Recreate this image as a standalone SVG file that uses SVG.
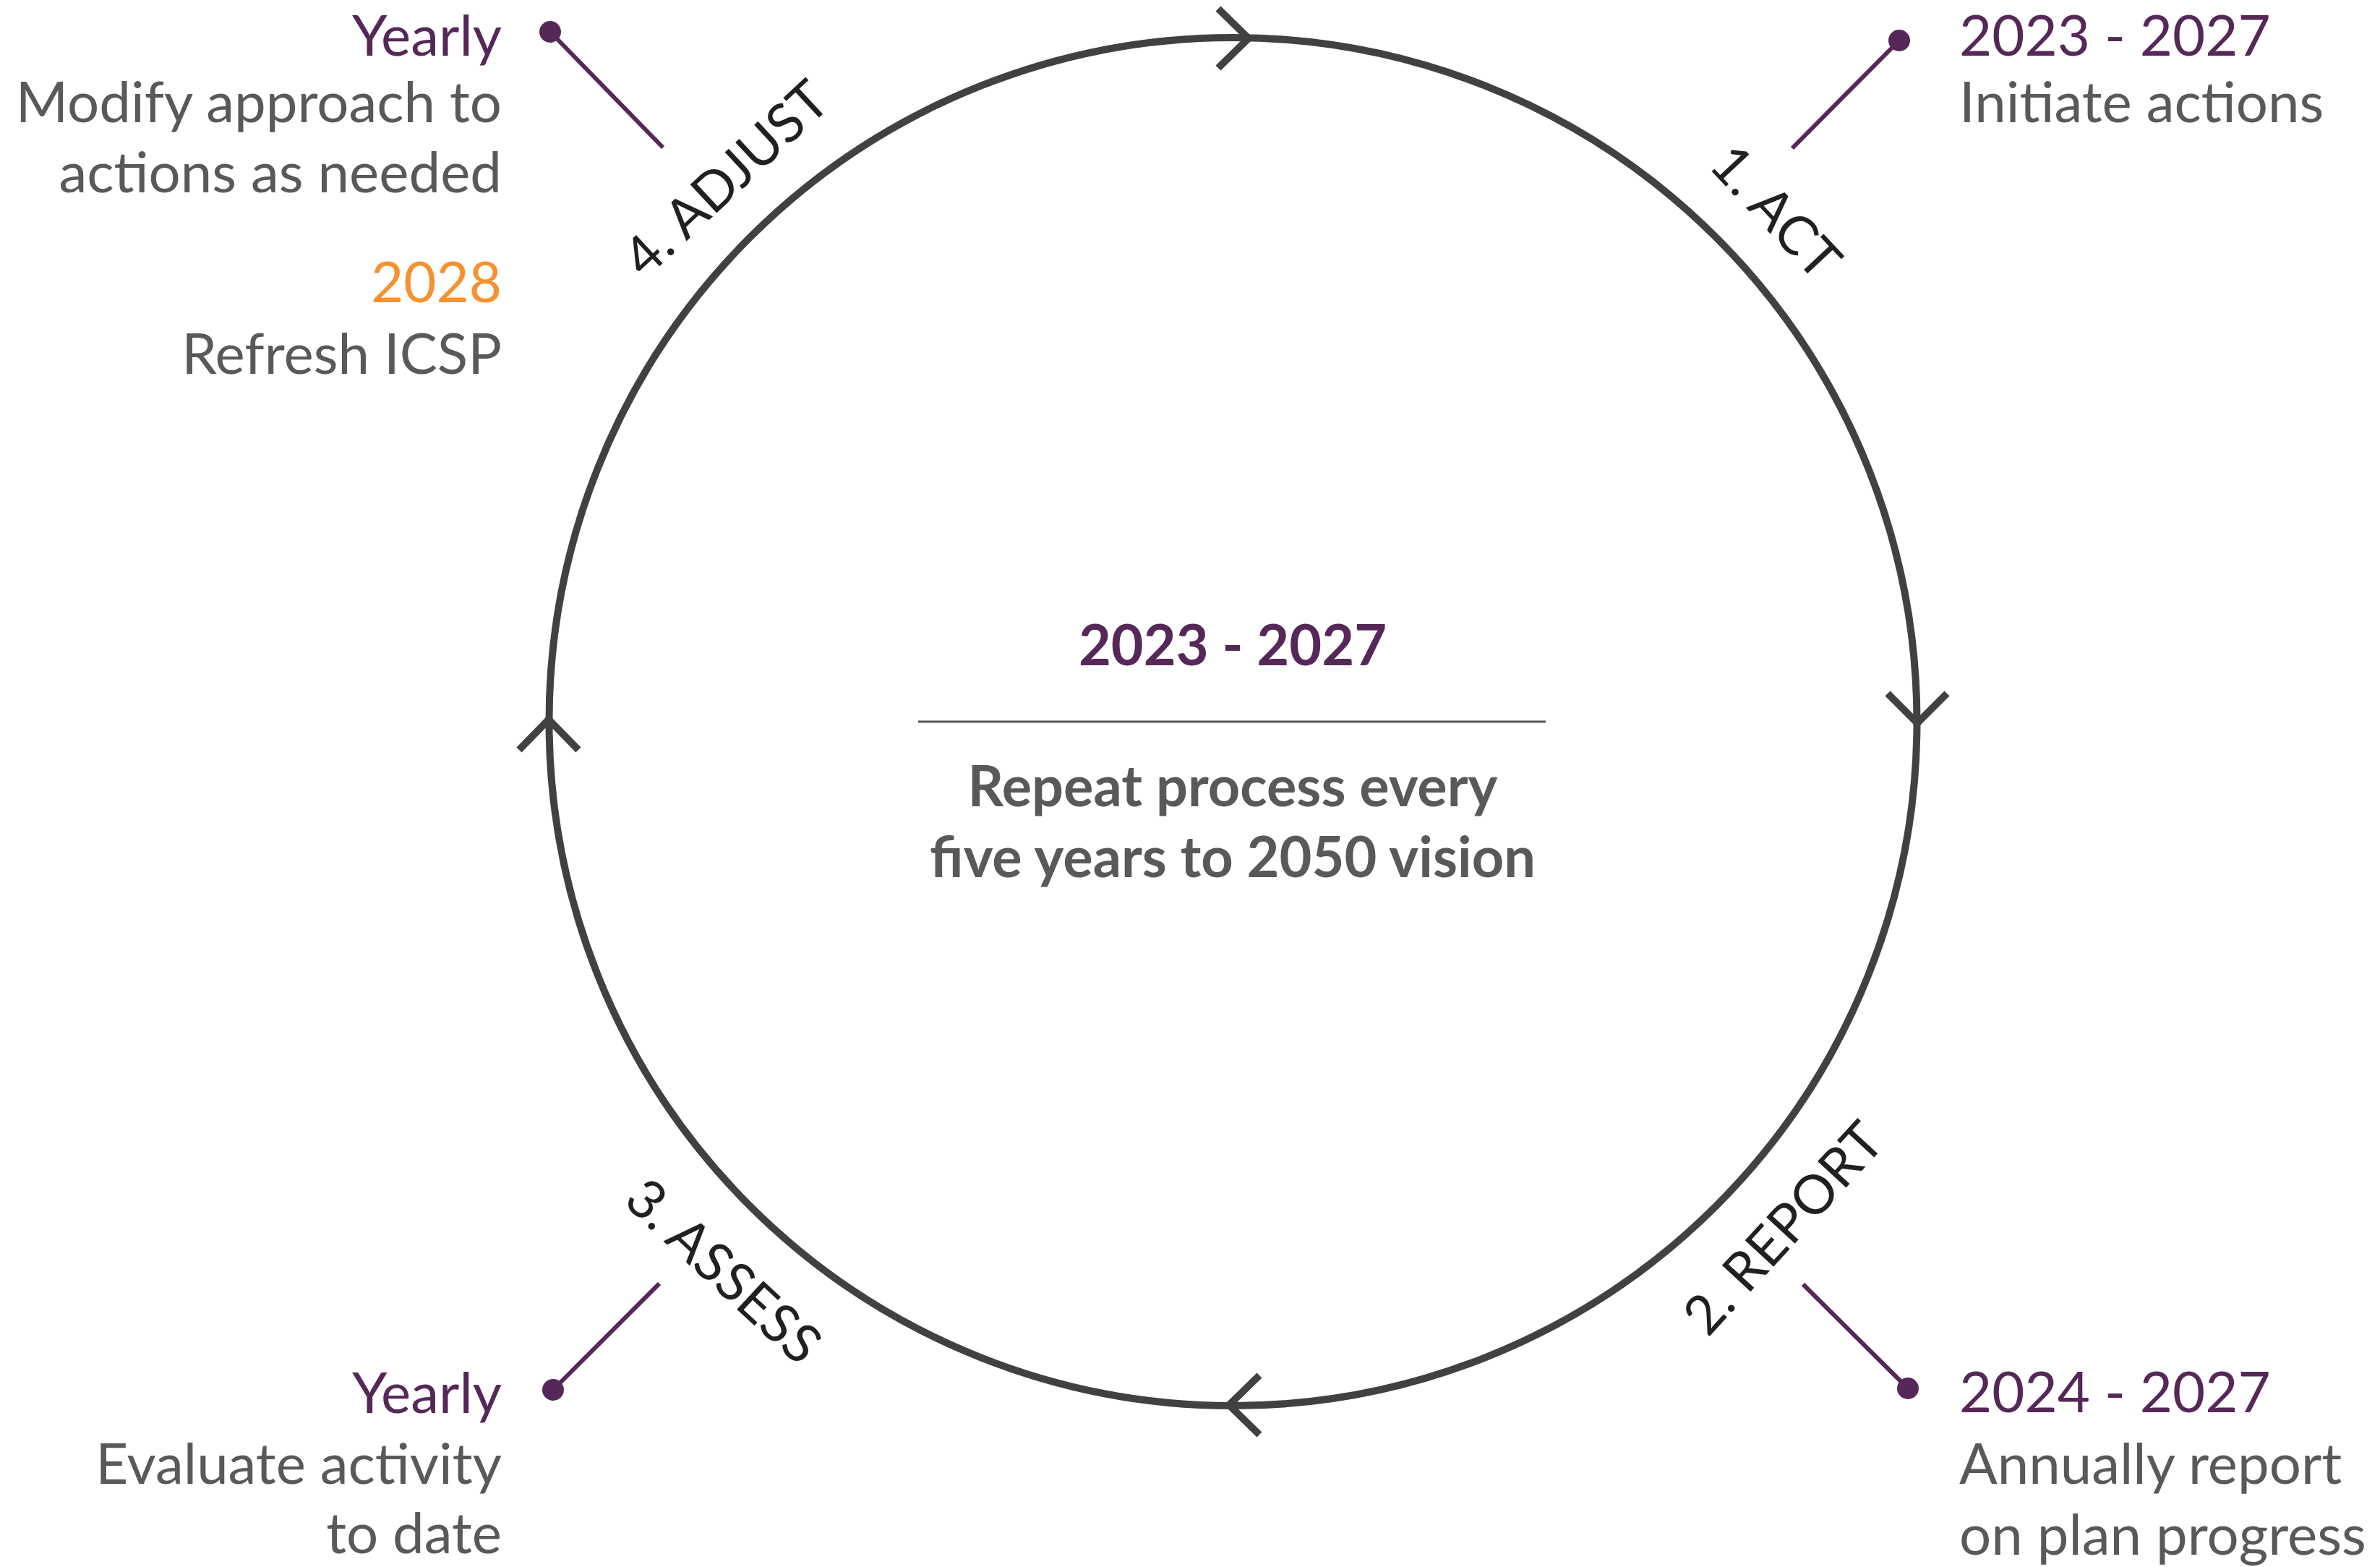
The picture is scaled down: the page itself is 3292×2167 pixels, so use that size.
<svg xmlns="http://www.w3.org/2000/svg" width="3292" height="2167" viewBox="0 0 3292 2167">
<style>
.t{font-family:Lato,"Open Sans","Liberation Sans",sans-serif;font-size:78px}
.p{fill:#552858}
.g{fill:#58595b}
.o{fill:#f6912f}
.b{font-family:Lato,"Open Sans","Liberation Sans",sans-serif;font-size:77.5px;font-weight:bold;text-anchor:middle}
.lab{font-family:Lato,"Open Sans","Liberation Sans",sans-serif;font-size:75px;fill:#231f20;text-anchor:middle}
.end{text-anchor:end}
.con{stroke:#552858;stroke-width:6;fill:none}
.dot{fill:#552858}
.arw{stroke:#414141;stroke-width:10;fill:none;stroke-linejoin:miter;stroke-miterlimit:10}
</style>
<rect width="3292" height="2167" fill="#ffffff"/>
<g id="cycle">
<circle cx="1705.5" cy="998" r="946" fill="none" stroke="#414141" stroke-width="10"/>
<polyline class="arw" points="1685,12 1727,53 1685,94"/>
<polyline class="arw" points="2611,959 2652,1000 2693,959"/>
<polyline class="arw" points="1742,1902 1700,1943 1742,1984"/>
<polyline class="arw" points="718,1037 759,995 800,1037"/>
</g>
<g id="center">
<text class="b p" x="1705" y="920">2023 - 2027</text>
<line x1="1270" y1="998" x2="2138" y2="998" stroke="#555555" stroke-width="3"/>
<text class="b g" x="1705" y="1115">Repeat process every</text>
<text class="b g" x="1705" y="1213">five years to 2050 vision</text>
</g>
<g id="connectors">
<line class="con" x1="761" y1="44" x2="917" y2="204"/>
<line class="con" x1="2627" y1="56" x2="2479" y2="205"/>
<line class="con" x1="2639" y1="1920" x2="2494" y2="1776"/>
<line class="con" x1="765" y1="1922" x2="912" y2="1775"/>
<circle class="dot" cx="761" cy="44" r="15"/>
<circle class="dot" cx="2627" cy="56" r="15"/>
<circle class="dot" cx="2639" cy="1920" r="15"/>
<circle class="dot" cx="765" cy="1922" r="15"/>
</g>
<g id="act">
<text class="lab" transform="translate(2437,311) rotate(46.8)" x="0" y="0">1. ACT</text>
<text class="t p" x="2710" y="77">2023 - 2027</text>
<text class="t g" x="2710" y="169">Initiate actions</text>
</g>
<g id="report">
<text class="lab" transform="translate(2486,1716) rotate(-47.4)" x="0" y="0">2. REPORT</text>
<text class="t p" x="2710" y="1953">2024 - 2027</text>
<text class="t g" x="2710" y="2052">Annually report</text>
<text class="t g" x="2710" y="2150">on plan progress</text>
</g>
<g id="assess">
<text class="lab" transform="translate(983,1777) rotate(42.8)" x="0" y="0">3. ASSESS</text>
<text class="t p end" x="694" y="1954">Yearly</text>
<text class="t g end" x="694" y="2052">Evaluate activity</text>
<text class="t g end" x="694" y="2148">to date</text>
</g>
<g id="adjust">
<text class="lab" transform="translate(1022,266) rotate(-43)" x="0" y="0">4. ADJUST</text>
<text class="t p end" x="694" y="77">Yearly</text>
<text class="t g end" x="694" y="169">Modify approach to</text>
<text class="t g end" x="694" y="266">actions as needed</text>
<text class="t o end" x="694" y="418">2028</text>
<text class="t g end" x="694" y="517">Refresh ICSP</text>
</g>
</svg>
